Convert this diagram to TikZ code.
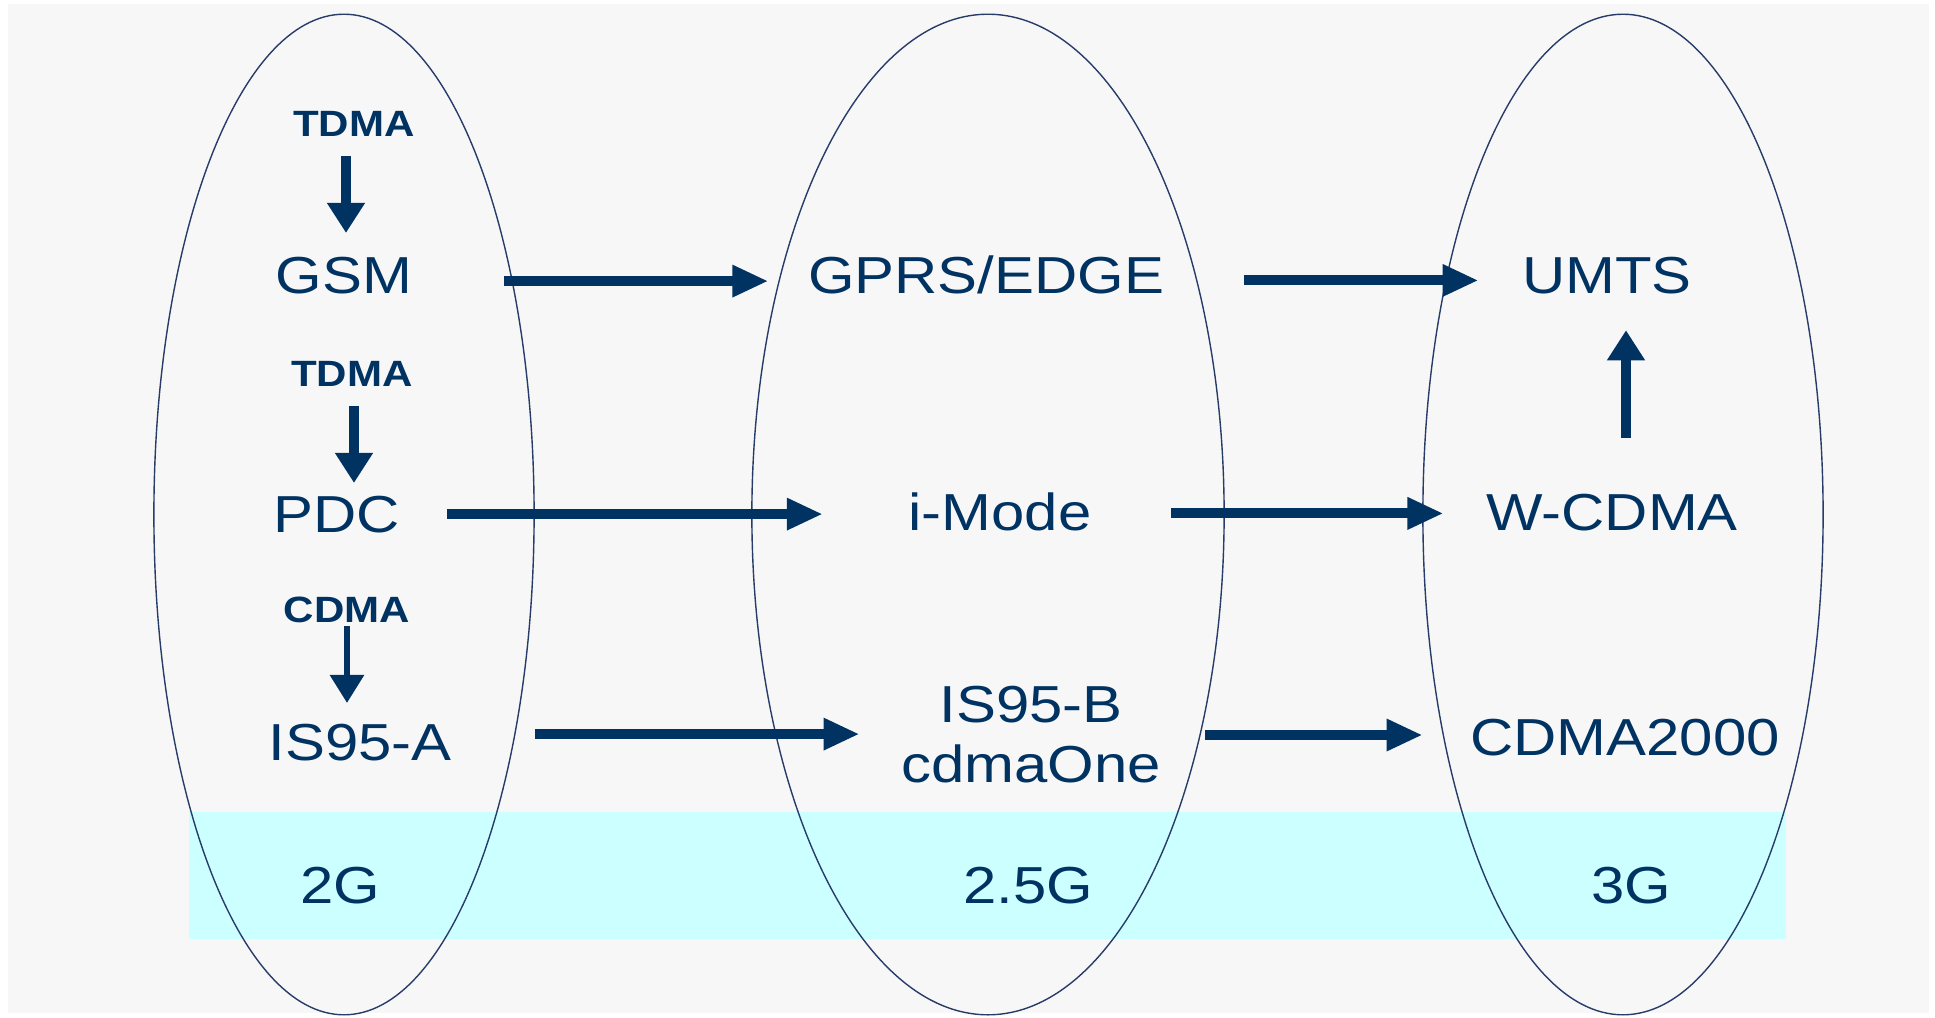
\documentclass[tikz,border=0pt]{standalone}
\usepackage{fontspec}
\setmainfont{Liberation Sans}[FakeStretch=1.15]
\usetikzlibrary{arrows.meta,calc}
\definecolor{navy}{RGB}{0,50,98}
\definecolor{rim}{RGB}{40,60,105}
\definecolor{bgg}{RGB}{247,247,247}
\definecolor{band}{RGB}{204,255,255}
\tikzset{
  lbl/.style={inner sep=0pt, text=navy, anchor=base, font=\fontsize{14.8pt}{17.1pt}\selectfont},
  tag/.style={inner sep=0pt, text=navy, anchor=base, font=\fontsize{10.4pt}{12pt}\selectfont\bfseries},
  harr/.style={draw=navy, line width=1.0mm, -{Triangle[length=3.6mm,width=3.0mm]}},
  varr/.style={draw=navy, line width=0.95mm, -{Triangle[length=3mm,width=3.6mm]}},
  varrthin/.style={draw=navy, line width=0.6mm, -{Triangle[length=2.8mm,width=3.3mm]}},
  rimline/.style={draw=rim, line width=0.14mm}
}
\begin{document}
\begin{tikzpicture}[x=0.01cm, y=-0.01cm]
\useasboundingbox (0,0) rectangle (1935,1017);
\fill[bgg] (8,4) rectangle (1929,1013);
\fill[band] (189,812) rectangle (1786,939);
% generation ellipses
\draw[rimline] (344,514.5) ellipse [x radius=1.9cm, y radius=5cm];
\draw[rimline] (988,514.5) ellipse [x radius=2.36cm, y radius=5cm];
\draw[rimline] (1623,514.5) ellipse [x radius=2.0cm, y radius=5cm];
% 2G column
\node[tag] (tdma1) at (354,136) {TDMA};
\node[lbl] (gsm) at (344,293) {GSM};
\node[tag] (tdma2) at (352,386) {TDMA};
\node[lbl] (pdc) at (337,532) {PDC};
\node[tag] (cdma) at (347,622) {CDMA};
\node[lbl] (isa) at (360,760) {IS95-A};
% 2.5G column
\node[lbl] (gprs) at (986,293) {GPRS/EDGE};
\node[lbl] (imode) at (1000,530) {i-Mode};
\node[lbl, anchor=center, align=center] (isb) at (1031,735) {IS95-B\\cdmaOne};
% 3G column
\node[lbl] (umts) at (1607,293) {UMTS};
\node[lbl] (wcdma) at (1612,530) {W-CDMA};
\node[lbl] (cdma2k) at (1625,755) {CDMA2000};
% band labels
\node[lbl] (g2) at (340,903) {2G};
\node[lbl] (g25) at (1028,903) {2.5G};
\node[lbl] (g3) at (1631,903) {3G};
% vertical arrows
\draw[varr] ([xshift=-0.8mm,yshift=-1.9mm]tdma1.south) -- ([xshift=-0.8mm,yshift=2.3mm]tdma1.south |- gsm.north);
\draw[varr] ([xshift=0.2mm,yshift=-1.9mm]tdma2.south) -- ([xshift=0.2mm,yshift=1.2mm]tdma2.south |- pdc.north);
\draw[varrthin] ([yshift=-0.3mm]cdma.south) -- ([yshift=2.0mm]cdma.south |- isa.north);
\draw[varr] ([xshift=1.4mm,yshift=5.5mm]wcdma.north) -- ([xshift=1.4mm,yshift=-3.6mm]wcdma.north |- umts.south);
% horizontal arrows
\draw[harr] ($(gsm.east)+(91,6)$) -- ($(gsm.east -| gprs.west)+(-39,6)$);
\draw[harr] ($(gprs.east)+(79,6)$) -- ($(gprs.east -| umts.west)+(-43,6)$);
\draw[harr] ($(pdc.east)+(46,0)$) -- ($(pdc.east -| imode.west)+(-85,0)$);
\draw[harr] ($(imode.east)+(79,2)$) -- ($(imode.east -| wcdma.west)+(-42,2)$);
\draw[harr] ($(isa.east)+(83,-8)$) -- ($(isa.east -| isb.west)+(-41,-8)$);
\draw[harr] ($(isb.east)+(44,0)$) -- ($(isb.east -| cdma2k.west)+(-47,0)$);
\end{tikzpicture}
\end{document}
